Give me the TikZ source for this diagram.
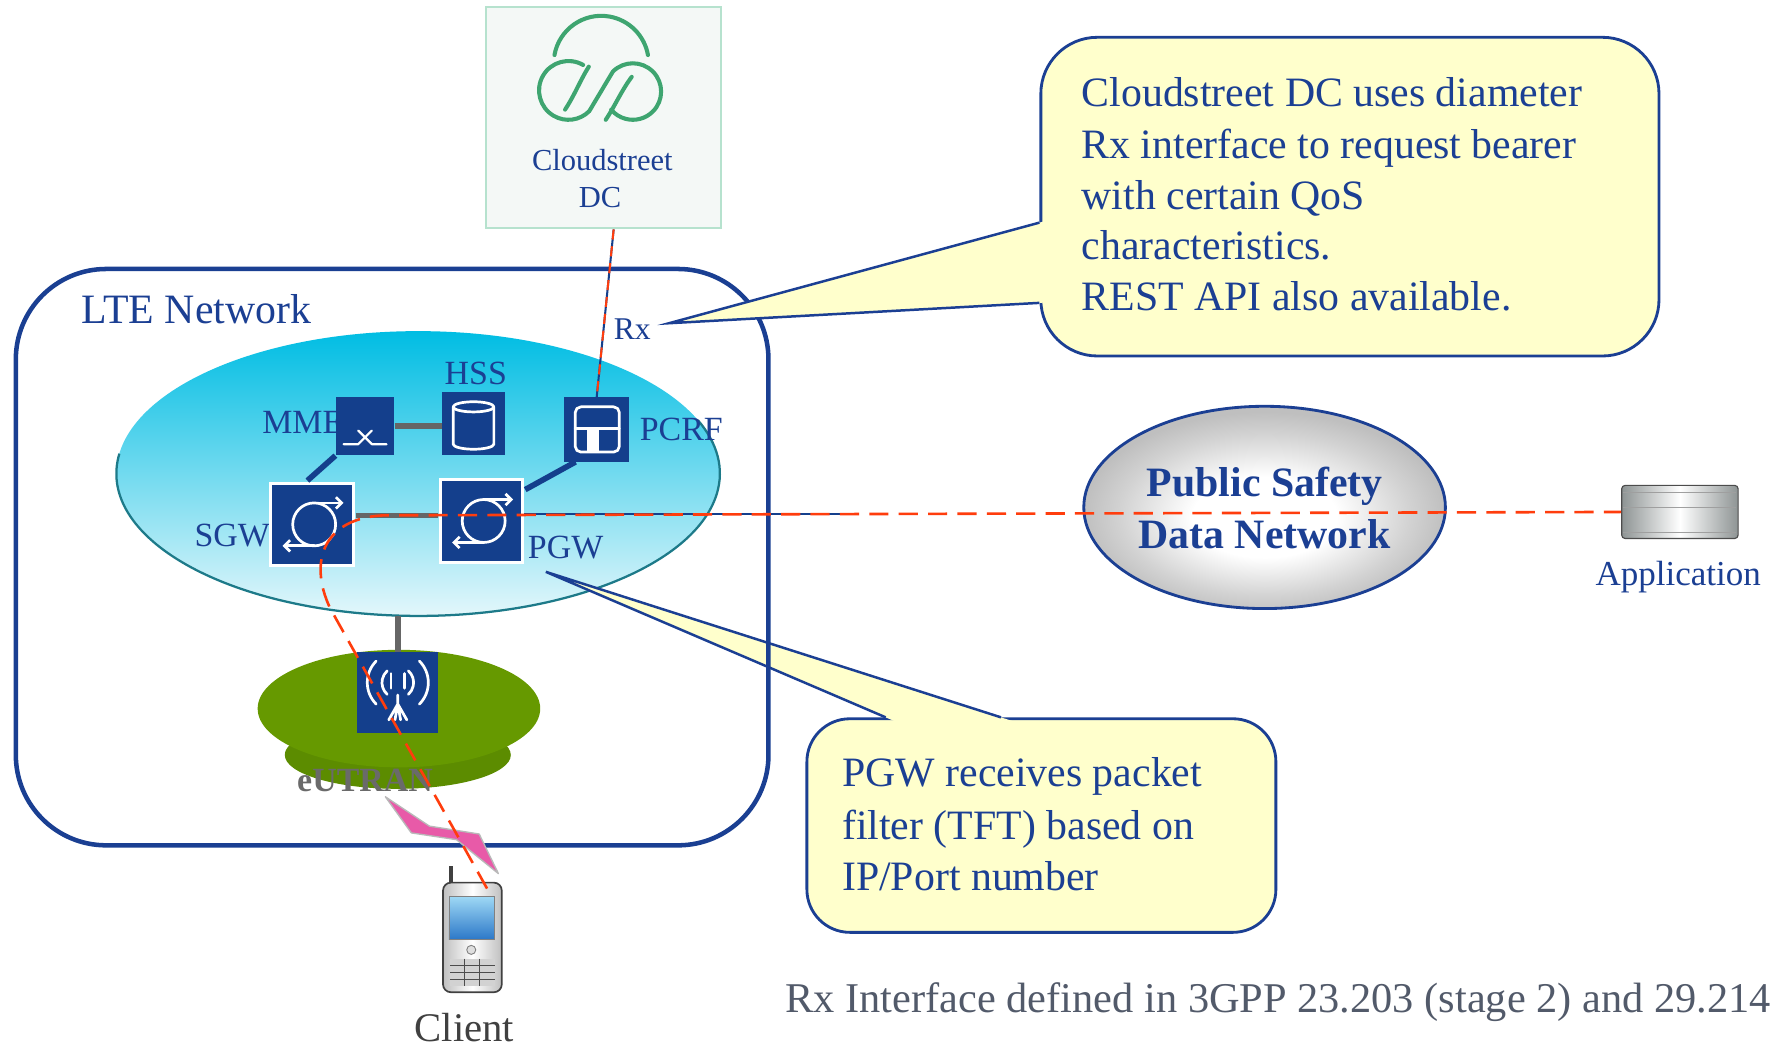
\documentclass[tikz,border=0pt]{standalone}
\usepackage{fontspec}
\setmainfont{Liberation Serif}
\usetikzlibrary{shapes.geometric,calc,arrows.meta}

\definecolor{boxblue}{HTML}{143F8C}
\definecolor{txtblue}{HTML}{1B3F93}
\definecolor{ltecol}{HTML}{1A3F92}
\definecolor{epctop}{HTML}{00BDE3}
\definecolor{epcbot}{HTML}{E3F7FB}
\definecolor{epcline}{HTML}{1D7A89}
\definecolor{noteyellow}{HTML}{FFFFCC}
\definecolor{bearerred}{HTML}{FF3D0D}
\definecolor{linkgrey}{HTML}{666666}
\definecolor{greenup}{HTML}{669900}
\definecolor{greenlow}{HTML}{5C8C00}
\definecolor{dcfill}{HTML}{F4F8F6}
\definecolor{dcline}{HTML}{B6E2CE}
\definecolor{logogreen}{HTML}{3EA570}
\definecolor{footcol}{HTML}{525A6A}
\definecolor{boltpink}{HTML}{E85AA8}
\definecolor{clientgrey}{HTML}{404040}
\definecolor{utrangrey}{HTML}{6A6A6A}
\definecolor{srvgrey}{HTML}{8E9494}
\definecolor{screenlight}{HTML}{9ED8F5}
\definecolor{screendark}{HTML}{2C78C8}

% soft silver fill of the data network cloud
\pgfdeclareradialshading{psdnshade}{\pgfpoint{0bp}{-3bp}}{%
  color(0bp)=(white); color(10bp)=(white); color(20bp)=(gray!35); color(25bp)=(gray!50); color(50bp)=(gray!50)}

\tikzset{
  netbox/.style={fill=boxblue, inner sep=0pt, minimum size=#1},
  gwbox/.style={fill=boxblue, draw=white, line width=2.5pt, inner sep=0pt, minimum size=#1},
  iconline/.style={draw=white, line width=2.4pt, line cap=round, line join=round},
  lbl/.style={text=txtblue, font=\fontsize{30}{36}\selectfont, inner sep=0pt},
  notetext/.style={text=txtblue, font=\fontsize{37}{45}\selectfont, inner sep=0pt, anchor=base west},
  note/.style={draw=txtblue, line width=2.5pt, fill=noteyellow, rounded corners=#1, inner sep=0pt},
  tailedge/.style={draw=txtblue, line width=2.2pt, line join=miter},
  greylink/.style={draw=linkgrey, line width=5pt},
  bluelink/.style={draw=boxblue, line width=5pt},
  bearer/.style={draw=bearerred, line width=2.3pt, dash pattern=on 17pt off 9pt},
  logo/.style={draw=logogreen, line width=3.6pt, line cap=round},
  gwicon/.pic={
    \draw[iconline] (2,0) circle[radius=19];
    \draw[iconline,-{Straight Barb[length=5pt,width=10pt]}] (2,-19) -- (28,-19);
    \draw[iconline,-{Straight Barb[length=5pt,width=10pt]}] (2,19) -- (-26,19);
  },
  mmeicon/.pic={
    \draw[iconline, line width=2pt] (-19,16) -- (-6,16) -- (6,4) (-6,4) -- (6,16) -- (19,16);
  },
  hssicon/.pic={
    \draw[iconline] (0,-15) ellipse[x radius=18, y radius=4.5];
    \draw[iconline] (-18,-15) -- (-18,18) arc[start angle=180, end angle=0, x radius=18, y radius=4.5] -- (18,-15);
  },
  pcrficon/.pic={
    \draw[iconline, rounded corners=5pt] (-19,-20) rectangle (20,20);
    \draw[iconline] (-19,-1) -- (20,-1);
    \fill[white] (-9,-1) rectangle (2,20);
  },
  enbicon/.pic={
    \draw[iconline] (-6,-17) -- (-6,-4) (6,-17) -- (6,-4);
    \draw[iconline] (0,-9) ++(-48:14) arc[start angle=-48, end angle=48, radius=14];
    \draw[iconline] (0,-9) ++(132:14) arc[start angle=132, end angle=228, radius=14];
    \draw[iconline] (0,-9) ++(-45:27) arc[start angle=-45, end angle=45, radius=27];
    \draw[iconline] (0,-9) ++(135:27) arc[start angle=135, end angle=225, radius=27];
    \draw[iconline] (0,2) -- (0,10) -- (-8,24) (0,10) -- (-2.5,24) (0,10) -- (2.5,24) (0,10) -- (8,24);
  },
}

\begin{document}
\begin{tikzpicture}[x=1pt,y=-1pt]
\useasboundingbox (0,0) rectangle (1568,930);
\fill[white] (0,0) rectangle (1568,930);

% ---------- Cloudstreet DC ----------
\node[draw=dcline, fill=dcfill, line width=2pt, minimum width=208pt, minimum height=196pt, inner sep=0pt] (dc) at (534,104) {};
\begin{scope}[shift={(532,80)}, y=1pt]
  \draw[logo] ([shift={(0,24)}]170:42) arc[start angle=170, end angle=10, radius=42];
  \draw[logo] ([shift={(-29,0)}]60:26) arc[start angle=60, end angle=315, radius=26]
        -- ([shift={(28,-1)}]135:25) arc[start angle=135, end angle=-140, radius=25];
  \draw[logo] (-32,-17) .. controls (-24,-5) and (-18,10) .. (-11,21);
  \draw[logo] (4,-26) .. controls (12,-14) and (18,0) .. (27,12);
\end{scope}
\node[lbl, anchor=base, font=\fontsize{27}{32}\selectfont] (dcname) at (533,151) {Cloudstreet};
\node[lbl, anchor=base, font=\fontsize{27}{32}\selectfont] (dcabbr) at (531,184) {DC};

% ---------- radio access cloud ----------
\fill[greenlow] (352,668) ellipse[x radius=100, y radius=30];
\fill[greenup] (353,627) ellipse[x radius=125, y radius=52];

% ---------- evolved packet core ----------
\node[ellipse, top color=epctop, bottom color=epcbot,
      minimum width=534pt, minimum height=252pt, inner sep=0pt] (epc) at (370,419) {};
\draw[epcline, line width=2pt] ($(epc.center)+(188:267 and 126)$)
  arc[start angle=188, end angle=-22, x radius=267, y radius=126];

\node[lbl, anchor=base] (hsslbl) at (421,340) {HSS};
\node[lbl, anchor=base east] (mmelbl) at (304,384) {MME};
\node[lbl, anchor=base west] (pcrflbl) at (566,390) {PCRF};
\node[lbl, anchor=base east] (sgwlbl) at (239,484) {SGW};
\node[lbl, anchor=base west] (pgwlbl) at (467,494) {PGW};

\node[netbox=52pt] (mme) at (323,377) {};
\node[netbox=56pt] (hss) at (419,375) {};
\node[netbox=57pt] (pcrf) at (528,380) {};
\node[gwbox=73pt] (sgw) at (276,464) {};
\node[gwbox=73pt] (pgw) at (426,461) {};

\pic at (mme) {mmeicon};
\pic at (hss) {hssicon};
\pic at (pcrf) {pcrficon};
\pic at (sgw) {gwicon};
\pic at (pgw) {gwicon};

\draw[greylink] (mme.east) -- (mme.east -| hss.west);
\draw[greylink] ($(sgw.east)+(1,-8)$) -- ($(pgw.west)+(-1,-5)$);
\draw[bluelink] (mme.south west) -- ($(sgw.north)+(-4,-1)$);
\draw[bluelink] ($(pcrf.south west)+(10,0)$) -- ($(pgw.north east)+(1,10)$);

% ---------- eNodeB ----------
\node[netbox=72pt] (enb) at (352,613) {};
\pic at (enb) {enbicon};
\draw[greylink] (enb.north) -- (enb.north |- epc.south);
\node[anchor=base, text=utrangrey, font=\fontsize{30}{36}\selectfont\bfseries, inner sep=0pt] (utran) at (323,700) {eUTRAN};

% ---------- PGW note ----------
\node[note=38pt, minimum width=415pt, minimum height=189pt] (note2) at (921.5,730.5) {};
\coordinate (n2a) at ($(note2.north west)+(71,0)$);
\coordinate (n2b) at ($(note2.north west)+(173,0)$);
\coordinate (n2tip) at (483,506);
\fill[noteyellow] (n2tip) -- ($(n2a)+(9.3,4)$) -- ($(n2b)+(12.4,4)$) -- cycle;
\draw[tailedge] (n2a) -- (n2tip) -- (n2b);
\node[notetext] (n2l1) at (745,696) {PGW receives packet};
\node[notetext] (n2l2) at (745,743) {filter (TFT) based on};
\node[notetext] (n2l3) at (745,788) {IP/Port number};

% ---------- LTE network frame ----------
\node[draw=ltecol, line width=4pt, rounded corners=80pt, minimum width=666pt, minimum height=510pt, inner sep=0pt] (lte) at (347,493) {};
\node[lbl, anchor=base west, font=\fontsize{37}{45}\selectfont] (ltelbl) at (72,286) {LTE Network};

% ---------- Rx note ----------
\node[note=50pt, minimum width=547pt, minimum height=282pt] (note1) at (1194.5,174) {};
\coordinate (n1a) at ($(note1.west)+(0,23)$);
\coordinate (n1b) at ($(note1.west)+(0,94)$);
\coordinate (n1tip) at (592,286);
\fill[noteyellow] (n1tip) -- ($(n1a)+(4,-1.1)$) -- ($(n1b)+(4,-0.2)$) -- cycle;
\draw[tailedge] (n1a) -- (n1tip) -- (n1b);
\node[notetext] (n1l1) at (957,94) {Cloudstreet DC uses diameter};
\node[notetext] (n1l2) at (957,140) {Rx interface to request bearer};
\node[notetext] (n1l3) at (957,185) {with certain QoS};
\node[notetext] (n1l4) at (957,230) {characteristics.};
\node[notetext] (n1l5) at (957,275) {REST API also available.};

% ---------- packet data network and application ----------
\node[ellipse, draw=txtblue, line width=2.5pt, shade, shading=psdnshade,
      minimum width=320pt, minimum height=179pt, inner sep=0pt] (psdn) at (1119,449) {};
\node[anchor=base, text=txtblue, font=\fontsize{37}{45}\selectfont\bfseries, inner sep=0pt] (psdn1) at (1119,439) {Public Safety};
\node[anchor=base, text=txtblue, font=\fontsize{37}{45}\selectfont\bfseries, inner sep=0pt] (psdn2) at (1119,485) {Data Network};

\node[draw=gray!60!black, line width=1pt, rounded corners=3pt, minimum width=103pt, minimum height=47pt,
      inner sep=0pt, left color=srvgrey, right color=srvgrey, middle color=white] (app) at (1486.5,453) {};
\foreach \dy in {7,20,42}
  \draw[gray!75, line width=1pt] ($(app.north west)+(2,\dy)$) -- ($(app.north east)+(-2,\dy)$);
\node[lbl, anchor=base, font=\fontsize{31}{37}\selectfont] (applbl) at (1485,518) {Application};

% ---------- client handset ----------
\node[draw=clientgrey, line width=1.5pt, rounded corners=7pt, minimum width=52pt, minimum height=97pt,
      inner sep=0pt, left color=gray!50, right color=gray!50, middle color=white] (phone) at (418,829.5) {};
\fill[clientgrey] ($(phone.north west)+(6,-14)$) rectangle ($(phone.north west)+(9.5,0)$);
\shade[top color=screenlight, bottom color=screendark, draw=gray]
  ($(phone.north west)+(6,13)$) rectangle ($(phone.north east)+(-7,51)$);
\draw[gray, fill=gray!25, line width=0.8pt] ($(phone.center)+(-1,11)$) circle[radius=4];
\fill[gray!35] ($(phone.north west)+(7,68)$) rectangle ($(phone.north east)+(-7,92)$);
\foreach \dy in {74,80,86}
  \draw[gray!60!black, line width=0.6pt] ($(phone.north west)+(7,\dy)$) -- ($(phone.north east)+(-7,\dy)$);
\foreach \dx in {19.5,32.5}
  \draw[gray!60!black, line width=0.6pt] ($(phone.north west)+(\dx,68)$) -- ($(phone.north west)+(\dx,92)$);
\node[anchor=base, text=clientgrey, font=\fontsize{36}{43}\selectfont, inner sep=0pt] (clientlbl) at (411,922) {Client};

% radio link
\filldraw[fill=boltpink, draw=gray!55, line width=1.2pt, line join=round]
  (341,705) -- (380,731) -- (424,738) -- (441,773) -- (404,743) -- (364,737) -- cycle;

% ---------- interfaces and bearer ----------
\coordinate (gi) at (743,455);
\draw[boxblue, line width=1.6pt] (pgw.east |- gi) -- (gi);
\coordinate (rxtop) at ($(dc.south)+(9,0)$);
\draw[boxblue, line width=1.8pt] (rxtop) -- (pcrf.north);
\draw[bearerred, line width=1.8pt, dash pattern=on 9pt off 6pt] (rxtop) -- (pcrf.north);
\node[lbl, anchor=base west, font=\fontsize{28}{34}\selectfont] (rxlbl) at (543,300) {Rx};

\coordinate (b0) at ($(phone.north)+(13,6)$);
\coordinate (b1) at (292,538);
\coordinate (b2) at (340,456);
\draw[bearer] (b0) -- (b1) .. controls (272,495) and (288,458) .. (b2) -- (app.west);

% ---------- reference ----------
\node[anchor=base east, text=footcol, font=\fontsize{37.5}{45}\selectfont, inner sep=0pt] (foot) at (1567,896)
  {Rx Interface defined in 3GPP 23.203 (stage 2) and 29.214};
\end{tikzpicture}
\end{document}
